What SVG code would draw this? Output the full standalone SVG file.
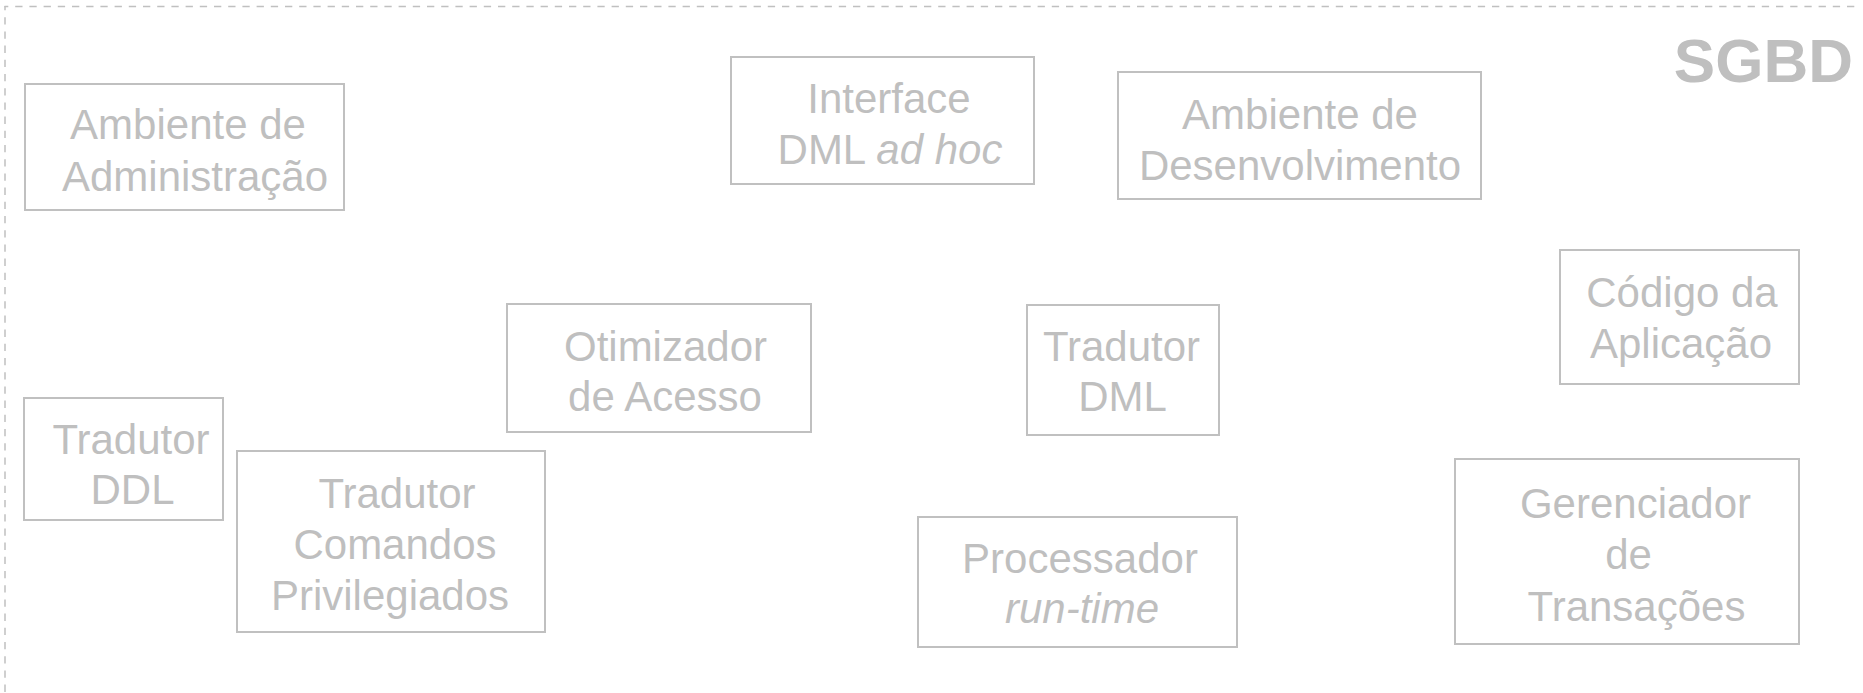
<svg xmlns="http://www.w3.org/2000/svg" width="1863" height="693" viewBox="0 0 1863 693">
  <style>
    .box { fill: none; stroke: #c0c0c0; stroke-width: 2; }
    .lbl { font-family: "Liberation Sans", Arial, sans-serif; font-size: 42px; fill: #bfbfbf; text-anchor: middle; }
    .it { font-style: italic; }
    .title { font-family: "Liberation Sans", Arial, sans-serif; font-size: 62px; font-weight: bold; fill: #bfbfbf; text-anchor: end; }
    .border { fill: none; stroke: #c0c0c0; stroke-width: 1.5; stroke-dasharray: 7.3 6.9; }
  </style>
  <rect width="1863" height="693" fill="#ffffff"/>
  <g id="frame">
    <line class="border" x1="4.5" y1="6.5" x2="1858" y2="6.5" stroke-dashoffset="3.5"/>
    <line class="border" x1="5" y1="6" x2="5" y2="693" stroke-dashoffset="3"/>
    <text class="title" x="1853" y="82">SGBD</text>
  </g>
  <g id="connectors"></g>
  <g id="ambiente-administracao">
    <rect class="box" x="25" y="84" width="319" height="126"/>
    <text class="lbl" x="188" y="139">Ambiente de</text>
    <text class="lbl" x="195" y="191">Administração</text>
  </g>
  <g id="interface-dml">
    <rect class="box" x="731" y="57" width="303" height="127"/>
    <text class="lbl" x="889" y="113">Interface</text>
    <text class="lbl" x="890" y="164">DML <tspan class="it">ad hoc</tspan></text>
  </g>
  <g id="ambiente-desenvolvimento">
    <rect class="box" x="1118" y="72" width="363" height="127"/>
    <text class="lbl" x="1300" y="129">Ambiente de</text>
    <text class="lbl" x="1300" y="180">Desenvolvimento</text>
  </g>
  <g id="codigo-aplicacao">
    <rect class="box" x="1560" y="250" width="239" height="134"/>
    <text class="lbl" x="1682" y="307">Código da</text>
    <text class="lbl" x="1681" y="358">Aplicação</text>
  </g>
  <g id="otimizador">
    <rect class="box" x="507" y="304" width="304" height="128"/>
    <text class="lbl" x="665.5" y="361">Otimizador</text>
    <text class="lbl" x="665" y="411">de Acesso</text>
  </g>
  <g id="tradutor-dml">
    <rect class="box" x="1027" y="305" width="192" height="130"/>
    <text class="lbl" x="1121.5" y="361">Tradutor</text>
    <text class="lbl" x="1122.5" y="411">DML</text>
  </g>
  <g id="tradutor-ddl">
    <rect class="box" x="24" y="398" width="199" height="122"/>
    <text class="lbl" x="131" y="454">Tradutor</text>
    <text class="lbl" x="132.5" y="504">DDL</text>
  </g>
  <g id="tradutor-comandos">
    <rect class="box" x="237" y="451" width="308" height="181"/>
    <text class="lbl" x="397" y="508">Tradutor</text>
    <text class="lbl" x="395" y="559">Comandos</text>
    <text class="lbl" x="390" y="610">Privilegiados</text>
  </g>
  <g id="processador">
    <rect class="box" x="918" y="517" width="319" height="130"/>
    <text class="lbl" x="1080" y="573">Processador</text>
    <text class="lbl it" x="1082" y="623">run-time</text>
  </g>
  <g id="gerenciador">
    <rect class="box" x="1455" y="459" width="344" height="185"/>
    <text class="lbl" x="1635.5" y="518">Gerenciador</text>
    <text class="lbl" x="1628.5" y="569">de</text>
    <text class="lbl" x="1636.5" y="621">Transações</text>
  </g>
</svg>
